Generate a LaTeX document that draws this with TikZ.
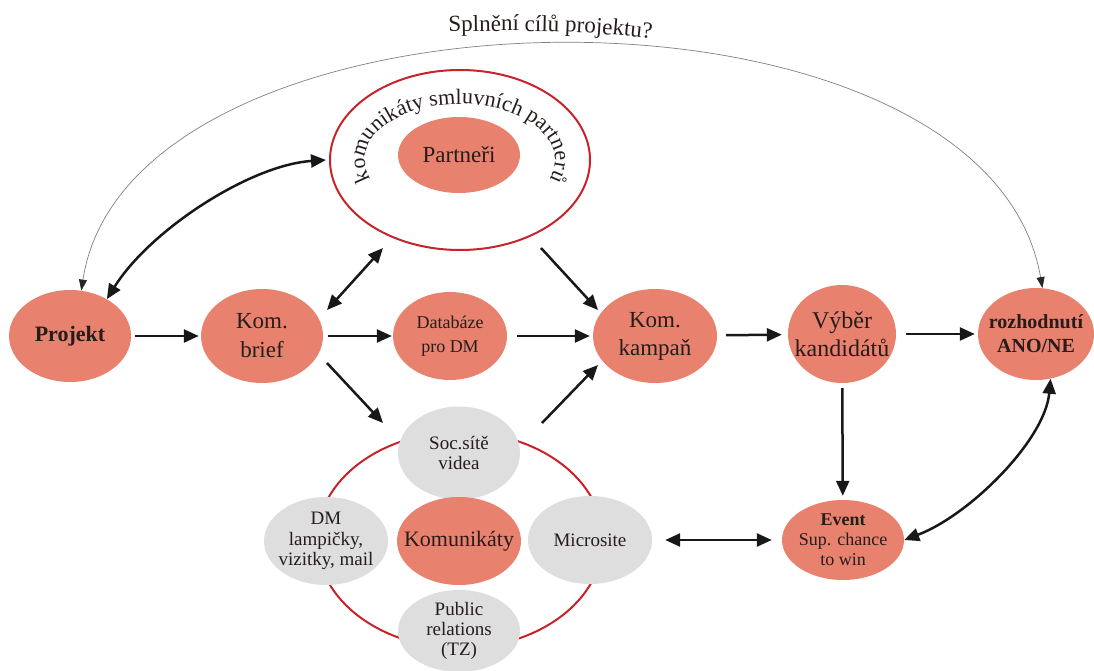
\documentclass[tikz,border=0pt]{standalone}
\usepackage{fontspec}
\setmainfont{Liberation Serif}
\usetikzlibrary{arrows.meta,decorations.text,shapes.geometric}
\definecolor{salmon}{RGB}{232,130,110}
\definecolor{pale}{RGB}{222,222,222}
\definecolor{ring}{RGB}{200,35,40}
\definecolor{ink}{RGB}{38,28,28}
\definecolor{wire}{RGB}{24,24,24}
\newcommand\fsz[2]{\fontsize{#1}{#2}\selectfont}
\begin{document}
\begin{tikzpicture}[x=1pt,y=1pt,
  oval/.style={ellipse, inner sep=0pt, draw=none},
  hot/.style={oval, fill=salmon},
  cool/.style={oval, fill=pale},
  ringline/.style={ellipse, draw=ring, line width=2pt, inner sep=0pt},
  txt/.style={text=ink, align=center, inner sep=0pt},
  wh/.style 2 args={minimum width=#1pt, minimum height=#2pt},
  one/.style={draw=wire, line width=2.5pt, -{Triangle[length=15pt,width=13pt]}},
  two/.style={draw=wire, line width=2.5pt, {Triangle[length=15pt,width=13pt]}-{Triangle[length=15pt,width=13pt]}},
  hair/.style={draw=black!50, line width=0.7pt, {Triangle[length=11pt,width=8pt,color=black!85]}-{Triangle[length=11pt,width=8pt,color=black!85]}},
]
\useasboundingbox (0,0) rectangle (1094,-671);

% rings behind the nodes
\node[ringline, wh={260}{180}] (outer) at (460,-160) {};
\node[ringline, wh={286}{216}] (kring) at (460,-540) {};

% main row
\node[hot, wh={122}{92}, label={[txt,font=\fsz{22}{26}\bfseries]center:Projekt}] (proj) at (70,-336) {};
\node[hot, wh={122}{94}, label={[txt,font=\fsz{23}{29}]center:{Kom.\\brief}}] (brief) at (262,-336) {};
\node[hot, wh={114}{88}, label={[txt,font=\fsz{18}{24}]center:{Databáze\\pro DM}}] (db) at (450,-336) {};
\node[hot, wh={124}{94}, label={[txt,font=\fsz{23}{28}]center:{Kom.\\kampaň}}] (kamp) at (655,-336) {};
\node[hot, wh={108}{98}, label={[txt,font=\fsz{24}{28}]center:{Výběr\\kandidátů}}] (vyber) at (842,-334) {};
\node[hot, wh={116}{92}, label={[txt,font=\fsz{20}{24}\bfseries]center:{rozhodnutí\\ANO/NE}}] (roz) at (1036,-334) {};

% partners
\node[hot, wh={122}{76}, label={[txt,font=\fsz{23}{27}]center:Partneři}] (partn) at (459,-155) {};
\path[decorate, decoration={text along path, text align=center, text color=ink,
  text={|\fsz{22}{26}|komunikáty smluvních partnerů}}]
  (370.7,-179.2) arc[start angle=200, end angle=-20, x radius=95, y radius=56];

% communication channels
\node[cool, wh={122}{93}, label={[txt,font=\fsz{19}{20}]center:{Soc.sítě\\videa}}] (soc) at (459,-453) {};
\node[cool, wh={124}{88}, label={[txt,font=\fsz{19}{20.5}]center:{DM\\lampičky,\\vizitky, mail}}] (dm) at (326,-541) {};
\node[hot, wh={124}{88}, label={[txt,font=\fsz{22}{26}]center:Komunikáty}] (komu) at (459,-541) {};
\node[cool, wh={124}{88}, label={[txt,font=\fsz{19}{22}]center:Microsite}] (micro) at (590,-540) {};
\node[cool, wh={122}{82}, label={[txt,font=\fsz{19}{20}]center:{Public\\relations\\(TZ)}}] (pr) at (459,-631) {};

% event
\node[hot, wh={122}{80}, label={[txt,font=\fsz{18}{20}]center:{\bfseries Event\\Sup. chance\\to win}}] (event) at (843,-540) {};

% title along a gentle curve
\path[decorate, decoration={text along path, text align=center, text color=ink,
  text={|\fsz{23}{27}|Splnění cílů projektu?}}]
  (440,-32) .. controls (513,-30) and (587,-30) .. (660,-40);

% loose ends of the short diagonal arrows
\coordinate (bA) at (327,-310);
\coordinate (oA) at (383,-248);
\coordinate (oB) at (541,-248);
\coordinate (kA) at (598,-310);
\coordinate (bB) at (327,-363);
\coordinate (sA) at (383,-423);
\coordinate (sB) at (542,-423);
\coordinate (kB) at (598,-365);

% connectors
\draw[one, shorten <=4pt, shorten >=2pt] (proj) -- (brief);
\draw[one, shorten <=5pt, shorten >=1pt] (brief) -- (db);
\draw[one, shorten <=10pt, shorten >=3pt] (db) -- (kamp);
\draw[one, shorten <=9pt, shorten >=6pt] (kamp) -- (vyber);
\draw[one, shorten <=10pt, shorten >=3pt] (vyber) -- (roz);
\draw[one, shorten <=5pt, shorten >=4pt] (vyber) -- (event);
\draw[two, shorten <=13pt, shorten >=10pt] (micro) -- (event);

\draw[two] (bA) -- (oA);
\draw[one] (oB) -- (kA);
\draw[one] (bB) -- (sA);
\draw[one] (sB) -- (kB);

\draw[two] (proj.45) .. controls (150,-230) and (250,-165) .. ([xshift=-3pt]outer.west);
\draw[two] (event.east) .. controls (970,-515) and (1045,-440) .. (roz.-72);
\draw[hair] (proj.76) .. controls (130,30) and (985,43) .. (roz.82);
\end{tikzpicture}
\end{document}
